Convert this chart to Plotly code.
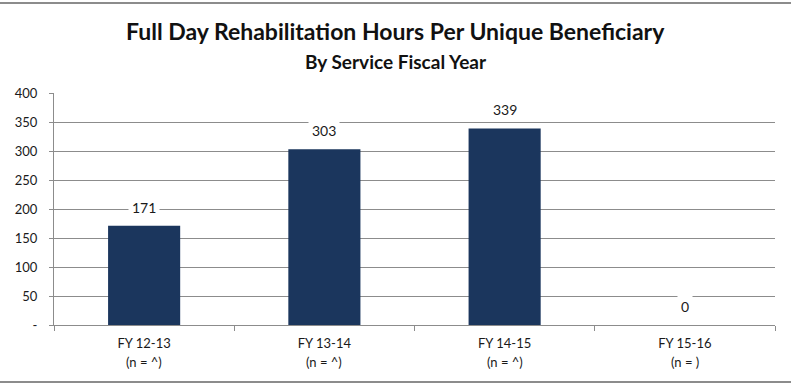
import plotly.graph_objects as go

# Chart data
years = ["FY 12-13", "FY 13-14", "FY 14-15", "FY 15-16"]
counts = ["^", "^", "^", ""]
hours = [171, 303, 339, 0]
y_ticks = [0, 50, 100, 150, 200, 250, 300, 350, 400]
y_tick_labels = ["-", "50", "100", "150", "200", "250", "300", "350", "400"]

FONT = "Lato"
BAR = "#1b365d"
GRID = "#8c8c8c"
TXT = "#1a1a1a"

W, H = 791, 383
ML, MR, MT, MB = 54, 16, 93, 58
PW, PH = W - ML - MR, H - MT - MB

fig = go.Figure()
fig.add_trace(go.Bar(
    x=years,
    y=hours,
    marker=dict(color=BAR, line=dict(width=0)),
    width=0.4,
    hoverinfo="x+y",
))

# Value labels in white boxes above each bar
for cat, val in zip(years, hours):
    fig.add_annotation(
        x=cat, y=val, xref="x", yref="y",
        text=str(val), showarrow=False,
        yanchor="bottom", yshift=6,
        bgcolor="white", borderpad=3,
        font=dict(family=FONT, size=14, color=TXT),
    )

# Second line of each category label: beneficiary count
for cat, n in zip(years, counts):
    fig.add_annotation(
        x=cat, y=0, xref="x", yref="paper",
        text=f"(n = {n})", showarrow=False,
        yanchor="middle", yshift=-37,
        font=dict(family=FONT, size=13, color=TXT),
    )

fig.update_layout(
    width=W, height=H,
    margin=dict(l=ML, r=MR, t=MT, b=MB),
    paper_bgcolor="white", plot_bgcolor="white",
    showlegend=False,
    font=dict(family=FONT, size=13, color=TXT),
    bargap=0.6,
)

# Titles centred on the whole figure
cx = (W / 2 - ML) / PW
fig.add_annotation(
    text="<b>Full Day Rehabilitation Hours Per Unique Beneficiary</b>",
    xref="paper", yref="paper", x=cx, y=1, xanchor="center", yanchor="middle",
    yshift=MT - 31, showarrow=False,
    font=dict(family=FONT, size=23, color="#111"),
)
fig.add_annotation(
    text="<b>By Service Fiscal Year</b>",
    xref="paper", yref="paper", x=cx, y=1, xanchor="center", yanchor="middle",
    yshift=MT - 61, showarrow=False,
    font=dict(family=FONT, size=19, color="#111"),
)

fig.update_xaxes(
    showline=True, linecolor=GRID, linewidth=1,
    ticks="outside", tickcolor=GRID, ticklen=5, tickson="boundaries",
    ticklabelstandoff=6,
    showgrid=False, tickfont=dict(family=FONT, size=13, color=TXT),
)
fig.update_yaxes(
    range=[0, 400], tickvals=y_ticks, ticktext=y_tick_labels,
    showline=True, linecolor=GRID, linewidth=1,
    ticks="outside", tickcolor=GRID, ticklen=4,
    ticklabelstandoff=9,
    showgrid=True, gridcolor=GRID, gridwidth=1, zeroline=False,
    tickfont=dict(family=FONT, size=13, color=TXT),
)

# Frame lines along top and bottom of the chart
x0, x1 = -ML / PW, 1 + MR / PW
top_y = 1 + (MT - 3) / PH
bot_y = -(382 - (H - MB)) / PH
fig.add_shape(type="line", xref="paper", yref="paper", x0=x0, x1=x1,
              y0=top_y, y1=top_y, line=dict(color=GRID, width=2))
fig.add_shape(type="line", xref="paper", yref="paper", x0=x0, x1=x1,
              y0=bot_y, y1=bot_y, line=dict(color=GRID, width=2))

fig.write_html("out.html")
